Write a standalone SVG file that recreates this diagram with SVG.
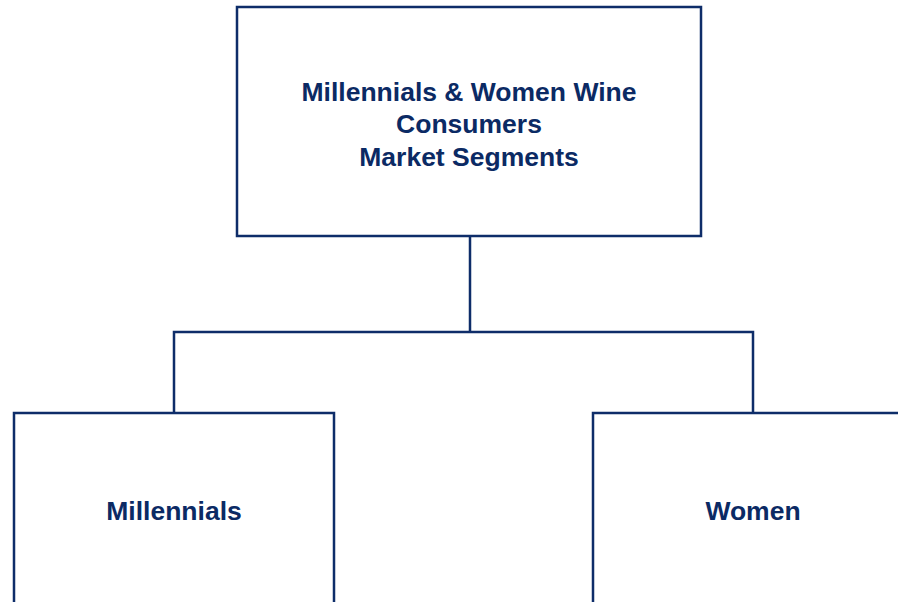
<svg xmlns="http://www.w3.org/2000/svg" width="898" height="602" viewBox="0 0 898 602">
<style>
.box{fill:#ffffff;stroke:#0e2d69;stroke-width:2.5}
.conn{fill:none;stroke:#0e2d69;stroke-width:2.5}
.lbl{font-family:"Liberation Sans",Arial,sans-serif;font-weight:bold;font-size:26.5px;fill:#0b2a64;text-anchor:middle}
</style>
<rect width="898" height="602" fill="#ffffff"/>
<g id="connectors">
<path class="conn" d="M470 237 V332 M174 413 V332 H753 V413"/>
</g>
<g id="root">
<rect class="box" x="237" y="7" width="464" height="229"/>
<text class="lbl" x="469" y="101">Millennials &amp; Women Wine</text>
<text class="lbl" x="469" y="133">Consumers</text>
<text class="lbl" x="469" y="166">Market Segments</text>
</g>
<g id="millennials">
<rect class="box" x="14" y="413" width="320" height="220"/>
<text class="lbl" x="174" y="520">Millennials</text>
</g>
<g id="women">
<rect class="box" x="593" y="413" width="320" height="220"/>
<text class="lbl" x="753" y="520">Women</text>
</g>
</svg>
